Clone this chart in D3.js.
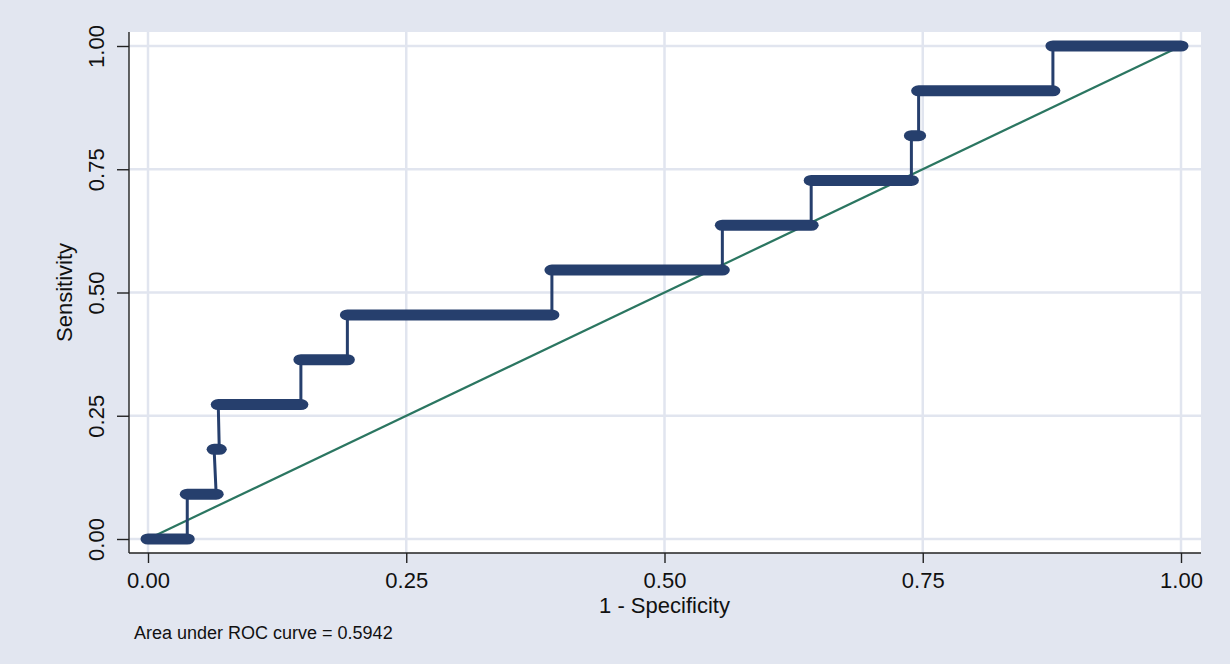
<!DOCTYPE html>
<html>
<head>
<meta charset="utf-8">
<script src="https://cdn.jsdelivr.net/npm/d3@7"></script>
<style>
  html, body { margin: 0; padding: 0; background: #e2e6f0; }
  svg { display: block; font-family: "Liberation Sans", Arial, Helvetica, sans-serif; }
</style>
</head>
<body>
<svg id="chart" width="1230" height="664"></svg>
<script>
// ROC curve: sensitivity levels and the 1-specificity span covered at each level
const sensitivity = [0, 0.0909, 0.1818, 0.2727, 0.3636, 0.4545, 0.5455, 0.6364, 0.7273, 0.8182, 0.9091, 1.0];
const fprFirst    = [0.000, 0.038, 0.064, 0.068, 0.148, 0.193, 0.391, 0.556, 0.642, 0.739, 0.746, 0.876];
const fprLast     = [0.038, 0.066, 0.069, 0.148, 0.193, 0.391, 0.556, 0.642, 0.739, 0.746, 0.876, 1.000];
const tickValues  = [0, 0.25, 0.5, 0.75, 1];
const tickLabels  = ["0.00", "0.25", "0.50", "0.75", "1.00"];
const aucText     = "Area under ROC curve = 0.5942";

const svg = d3.select("#chart");
const W = 1230, H = 664;
const plot = { left: 129, right: 1201, top: 32, bottom: 553 };

const x = d3.scaleLinear().domain([0, 1]).range([148, 1181]);
const y = d3.scaleLinear().domain([0, 1]).range([539, 46]);

svg.append("rect").attr("width", W).attr("height", H).attr("fill", "#e2e6f0");
svg.append("rect")
  .attr("x", plot.left).attr("y", plot.top)
  .attr("width", plot.right - plot.left).attr("height", plot.bottom - plot.top)
  .attr("fill", "#ffffff");

// grid lines
const grid = svg.append("g").attr("stroke", "#e1e5ef").attr("stroke-width", 2.5);
grid.selectAll("line.h").data(tickValues).join("line")
  .attr("x1", plot.left).attr("x2", plot.right)
  .attr("y1", d => y(d)).attr("y2", d => y(d));
grid.selectAll("line.v").data(tickValues).join("line")
  .attr("y1", plot.top).attr("y2", plot.bottom)
  .attr("x1", d => x(d)).attr("x2", d => x(d));

// axes
const fmt = d => tickLabels[tickValues.indexOf(d)];
const xAxis = d3.axisBottom(x).tickValues(tickValues).tickFormat(fmt).tickSize(10).tickPadding(9);
const yAxis = d3.axisLeft(y).tickValues(tickValues).tickFormat(fmt).tickSize(12).tickPadding(8);

const gx = svg.append("g").attr("transform", `translate(0,${plot.bottom})`).call(xAxis);
gx.select(".domain").remove();
gx.append("line").attr("x1", plot.left).attr("x2", plot.right)
  .attr("stroke", "#222").attr("stroke-width", 1.4);
gx.selectAll(".tick line").attr("stroke", "#222").attr("stroke-width", 1.4);
gx.selectAll(".tick text").attr("fill", "#111").attr("font-size", 22)
  .attr("font-family", "Liberation Sans, Arial, sans-serif");

const gy = svg.append("g").attr("transform", `translate(${plot.left},0)`).call(yAxis);
gy.select(".domain").remove();
gy.append("line").attr("y1", plot.top).attr("y2", plot.bottom)
  .attr("stroke", "#222").attr("stroke-width", 1.4);
gy.selectAll(".tick line").attr("stroke", "#222").attr("stroke-width", 1.4);
gy.selectAll(".tick text")
  .attr("fill", "#111").attr("font-size", 22)
  .attr("font-family", "Liberation Sans, Arial, sans-serif")
  .attr("x", null).attr("dy", null)
  .attr("text-anchor", "middle")
  .attr("transform", "translate(-25,0) rotate(-90)");

// reference diagonal
svg.append("line")
  .attr("x1", x(0)).attr("y1", y(0)).attr("x2", x(1)).attr("y2", y(1))
  .attr("stroke", "#2b7661").attr("stroke-width", 2.2);

// connecting line through the ROC points, in order
const pts = [];
sensitivity.forEach((s, i) => { pts.push([fprFirst[i], s]); pts.push([fprLast[i], s]); });
svg.append("path")
  .datum(pts)
  .attr("fill", "none")
  .attr("stroke", "#263f6d")
  .attr("stroke-width", 3)
  .attr("d", d3.line().x(d => x(d[0])).y(d => y(d[1])));

// overlapping markers at each sensitivity level
const rx = 7.5, ry = 5.5;
svg.append("g").selectAll("rect").data(sensitivity).join("rect")
  .attr("x", (d, i) => x(fprFirst[i]) - rx)
  .attr("width", (d, i) => x(fprLast[i]) - x(fprFirst[i]) + 2 * rx)
  .attr("y", d => y(d) - ry)
  .attr("height", 2 * ry)
  .attr("rx", rx).attr("ry", ry)
  .attr("fill", "#263f6d");

// axis titles
svg.append("text")
  .attr("x", (x(0) + x(1)) / 2).attr("y", 613)
  .attr("text-anchor", "middle").attr("font-size", 22).attr("fill", "#111")
  .text("1 - Specificity");
svg.append("text")
  .attr("transform", `translate(72,${(y(0) + y(1)) / 2}) rotate(-90)`)
  .attr("text-anchor", "middle").attr("font-size", 22).attr("fill", "#111")
  .text("Sensitivity");

// note
svg.append("text")
  .attr("x", 134).attr("y", 639)
  .attr("font-size", 18).attr("fill", "#111")
  .text(aucText);
</script>
</body>
</html>
